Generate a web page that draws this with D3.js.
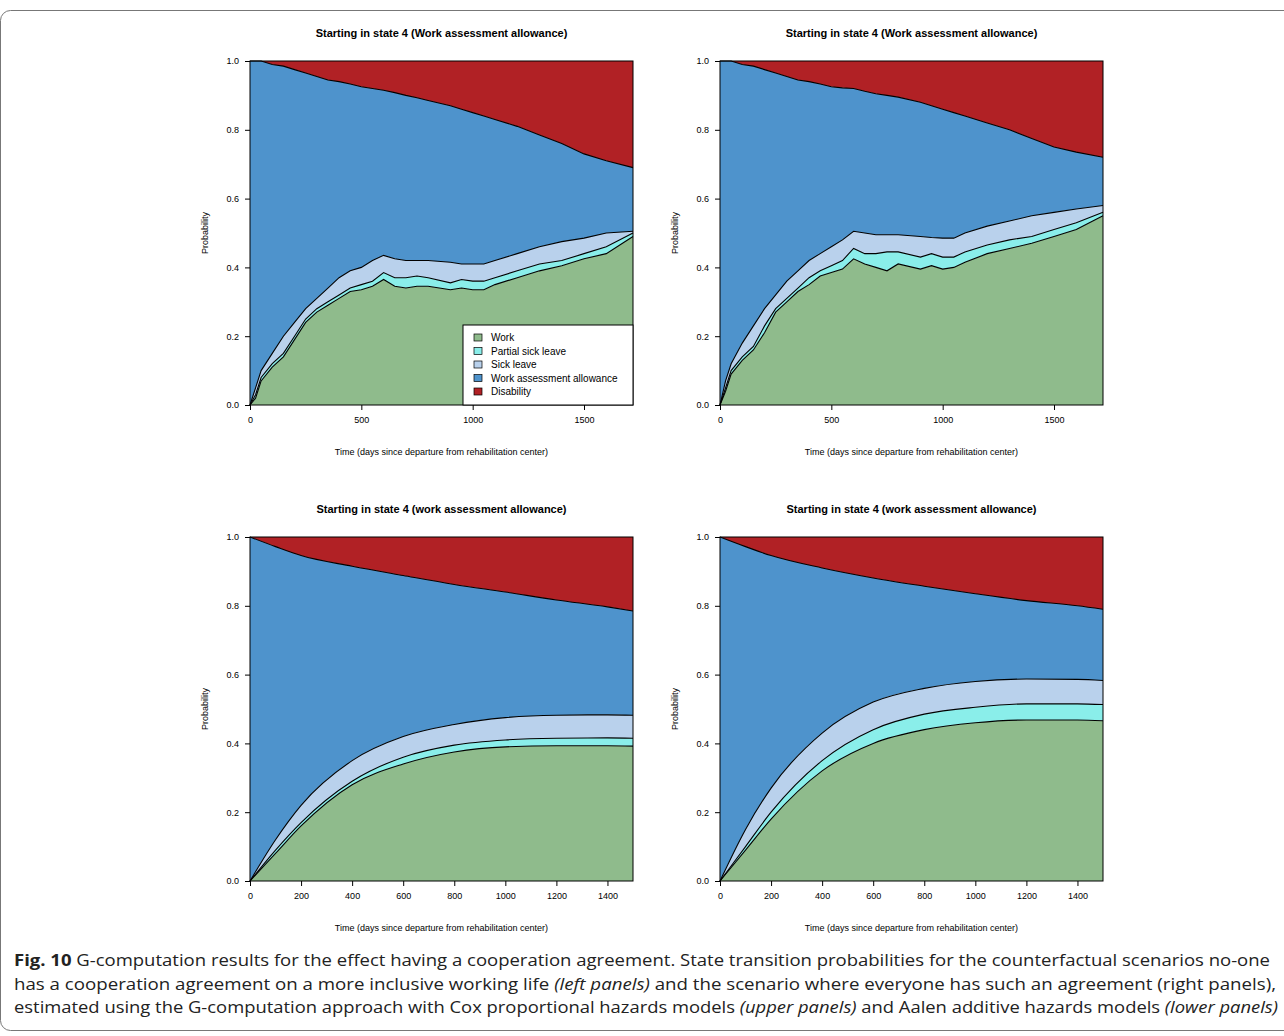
<!DOCTYPE html>
<html><head><meta charset="utf-8">
<script src="https://cdn.jsdelivr.net/npm/d3@7"></script>
<style>body{margin:0;background:#fff}svg{font-family:"Liberation Sans",Arial,sans-serif}</style>
</head><body>
<svg width="1284" height="1036"></svg>
<script>
const stateNames = ["Work", "Partial sick leave", "Sick leave", "Work assessment allowance", "Disability"];
const stateColors = ["#8fbb8c", "#8aeeea", "#b9d1ec", "#4e93cc", "#b12125"];

// top panels (Cox): cumulative boundaries
const coxT = [0,25,50,100,150,200,250,300,350,400,450,500,550,600,650,700,750,800,900,950,1000,1050,1100,1200,1300,1400,1500,1600,1720];
const coxLeftWork =    [0,.02,.07,.11,.14,.19,.24,.27,.29,.31,.33,.335,.345,.365,.345,.34,.345,.345,.335,.34,.335,.335,.35,.37,.39,.405,.425,.44,.49];
const coxLeftPartial = [0,.03,.08,.12,.15,.20,.25,.28,.30,.32,.34,.35,.36,.385,.37,.37,.375,.37,.355,.365,.36,.36,.37,.39,.41,.42,.44,.46,.50];
const coxLeftSick =    [0,.05,.10,.15,.20,.24,.28,.31,.34,.37,.39,.40,.42,.435,.425,.42,.42,.42,.415,.41,.41,.41,.42,.44,.46,.475,.485,.50,.505];
const coxLeftWaa =     [1,1,1,.99,.985,.975,.965,.955,.945,.94,.933,.925,.92,.915,.908,.9,.893,.885,.87,.86,.85,.84,.83,.81,.785,.76,.73,.71,.69];
const coxRightWork =    [0,.04,.09,.13,.16,.21,.27,.30,.33,.35,.375,.385,.395,.425,.41,.40,.39,.41,.395,.405,.395,.40,.415,.44,.455,.47,.49,.51,.55];
const coxRightPartial = [0,.05,.10,.14,.17,.23,.28,.31,.34,.37,.39,.405,.42,.455,.44,.44,.445,.445,.43,.44,.43,.43,.445,.465,.48,.49,.51,.53,.56];
const coxRightSick =    [0,.07,.12,.18,.23,.28,.32,.36,.39,.42,.44,.46,.48,.505,.50,.495,.495,.495,.49,.487,.485,.485,.50,.52,.535,.55,.56,.57,.58];
const coxRightWaa =     [1,1,1,.99,.985,.975,.965,.955,.945,.94,.933,.925,.922,.92,.912,.905,.9,.895,.88,.87,.86,.85,.84,.82,.80,.775,.75,.735,.72];

// bottom panels (Aalen): smooth
const aalenT = [0,100,200,400,600,800,1000,1200,1400,1500];
const aalenLeftWork =    [0,.08,.16,.28,.34,.375,.39,.393,.393,.392];
const aalenLeftPartial = [0,.09,.17,.29,.36,.395,.41,.415,.416,.415];
const aalenLeftSick =    [0,.12,.22,.35,.42,.455,.475,.482,.483,.482];
const aalenLeftWaa =     [1,.972,.946,.915,.888,.862,.84,.817,.797,.785];
const aalenRightWork =    [0,.09,.18,.32,.40,.44,.46,.468,.468,.466];
const aalenRightPartial = [0,.10,.20,.35,.44,.485,.505,.515,.515,.513];
const aalenRightSick =    [0,.15,.27,.43,.52,.56,.58,.587,.586,.583];
const aalenRightWaa =     [1,.972,.946,.91,.881,.857,.835,.815,.80,.79];

const titleTop = "Starting in state 4 (Work assessment allowance)";
const titleBottom = "Starting in state 4 (work assessment allowance)";
const xLabel = "Time (days since departure from rehabilitation center)";

const svg = d3.select("svg");
svg.append("rect").attr("x", 0.5).attr("y", 10.5).attr("width", 1300).attr("height", 1020)
  .attr("rx", 10).attr("fill", "none").attr("stroke", "#777");

function panel(x0, y0, title, t, bounds, xmax, xticks, curve, legend){
  const w = 383, h = 344;
  const g = svg.append("g").attr("transform", `translate(${x0},${y0})`);
  const x = d3.scaleLinear().domain([0, xmax]).range([0, w]);
  const y = d3.scaleLinear().domain([0, 1]).range([h, 0]);
  const layers = [[Array(t.length).fill(0), bounds[0]], [bounds[0], bounds[1]], [bounds[1], bounds[2]],
                  [bounds[2], bounds[3]], [bounds[3], Array(t.length).fill(1)]];
  const area = d3.area().x((d, i) => x(t[i])).y0(d => y(d[0])).y1(d => y(d[1])).curve(curve);
  layers.forEach((L, k) => {
    g.append("path").datum(L[0].map((v, i) => [v, L[1][i]])).attr("d", area).attr("fill", stateColors[k]);
  });
  const line = d3.line().x((d, i) => x(t[i])).y(d => y(d)).curve(curve);
  bounds.forEach(b => g.append("path").datum(b).attr("d", line).attr("fill", "none").attr("stroke", "#000").attr("stroke-width", 1.1));
  g.append("rect").attr("width", w).attr("height", h).attr("fill", "none").attr("stroke", "#000");
  const fixText = a => { a.select(".domain").remove(); a.selectAll("text").attr("font-size", 9).attr("font-family", "Liberation Sans").attr("fill", "#000"); };
  g.append("g").attr("transform", `translate(0,${h})`).call(d3.axisBottom(x).tickValues(xticks).tickFormat(d3.format("d")).tickSize(5).tickPadding(7)).call(fixText);
  g.append("g").call(d3.axisLeft(y).ticks(5).tickFormat(d3.format(".1f")).tickSize(5).tickPadding(6)).call(fixText);
  g.append("text").attr("x", w/2).attr("y", -24).attr("text-anchor", "middle").attr("font-size", 11).attr("font-weight", "bold").text(title);
  g.append("text").attr("x", w/2).attr("y", h + 50).attr("text-anchor", "middle").attr("font-size", 9).text(xLabel);
  g.append("text").attr("transform", `translate(-42,${h/2}) rotate(-90)`).attr("text-anchor", "middle").attr("font-size", 9).text("Probability");
  if (legend) {
    const lg = g.append("g").attr("transform", `translate(${w - 170},${h - 80})`);
    lg.append("rect").attr("width", 170).attr("height", 80).attr("fill", "#fff").attr("stroke", "#000");
    stateNames.forEach((n, i) => {
      lg.append("rect").attr("x", 11).attr("y", 9 + i*13.5).attr("width", 8).attr("height", 7).attr("fill", stateColors[i]).attr("stroke", "#000").attr("stroke-width", .7);
      lg.append("text").attr("x", 28).attr("y", 16 + i*13.5).attr("font-size", 10).text(n);
    });
  }
}

panel(250, 61, titleTop, coxT, [coxLeftWork, coxLeftPartial, coxLeftSick, coxLeftWaa], 1720, [0,500,1000,1500], d3.curveLinear, true);
panel(720, 61, titleTop, coxT, [coxRightWork, coxRightPartial, coxRightSick, coxRightWaa], 1720, [0,500,1000,1500], d3.curveLinear, false);
panel(250, 537, titleBottom, aalenT, [aalenLeftWork, aalenLeftPartial, aalenLeftSick, aalenLeftWaa], 1500, d3.range(0,1500,200), d3.curveMonotoneX, false);
panel(720, 537, titleBottom, aalenT, [aalenRightWork, aalenRightPartial, aalenRightSick, aalenRightWaa], 1500, d3.range(0,1500,200), d3.curveMonotoneX, false);

const cap = svg.append("g").attr("font-family", "'Open Sans', sans-serif").attr("font-size", 16).attr("fill", "#222");
const l1 = cap.append("text").attr("x", 14).attr("y", 966).attr("textLength", 1256).attr("lengthAdjust", "spacingAndGlyphs");
l1.append("tspan").attr("font-weight", "bold").text("Fig. 10 ");
l1.append("tspan").text("G-computation results for the effect having a cooperation agreement. State transition probabilities for the counterfactual scenarios no-one");
const l2 = cap.append("text").attr("x", 14).attr("y", 990).attr("textLength", 1262).attr("lengthAdjust", "spacingAndGlyphs");
l2.append("tspan").text("has a cooperation agreement on a more inclusive working life ");
l2.append("tspan").attr("font-style", "italic").text("(left panels)");
l2.append("tspan").text(" and the scenario where everyone has such an agreement (right panels),");
const l3 = cap.append("text").attr("x", 14).attr("y", 1013).attr("textLength", 1264).attr("lengthAdjust", "spacingAndGlyphs");
l3.append("tspan").text("estimated using the G-computation approach with Cox proportional hazards models ");
l3.append("tspan").attr("font-style", "italic").text("(upper panels)");
l3.append("tspan").text(" and Aalen additive hazards models ");
l3.append("tspan").attr("font-style", "italic").text("(lower panels)");
</script>
</body></html>
